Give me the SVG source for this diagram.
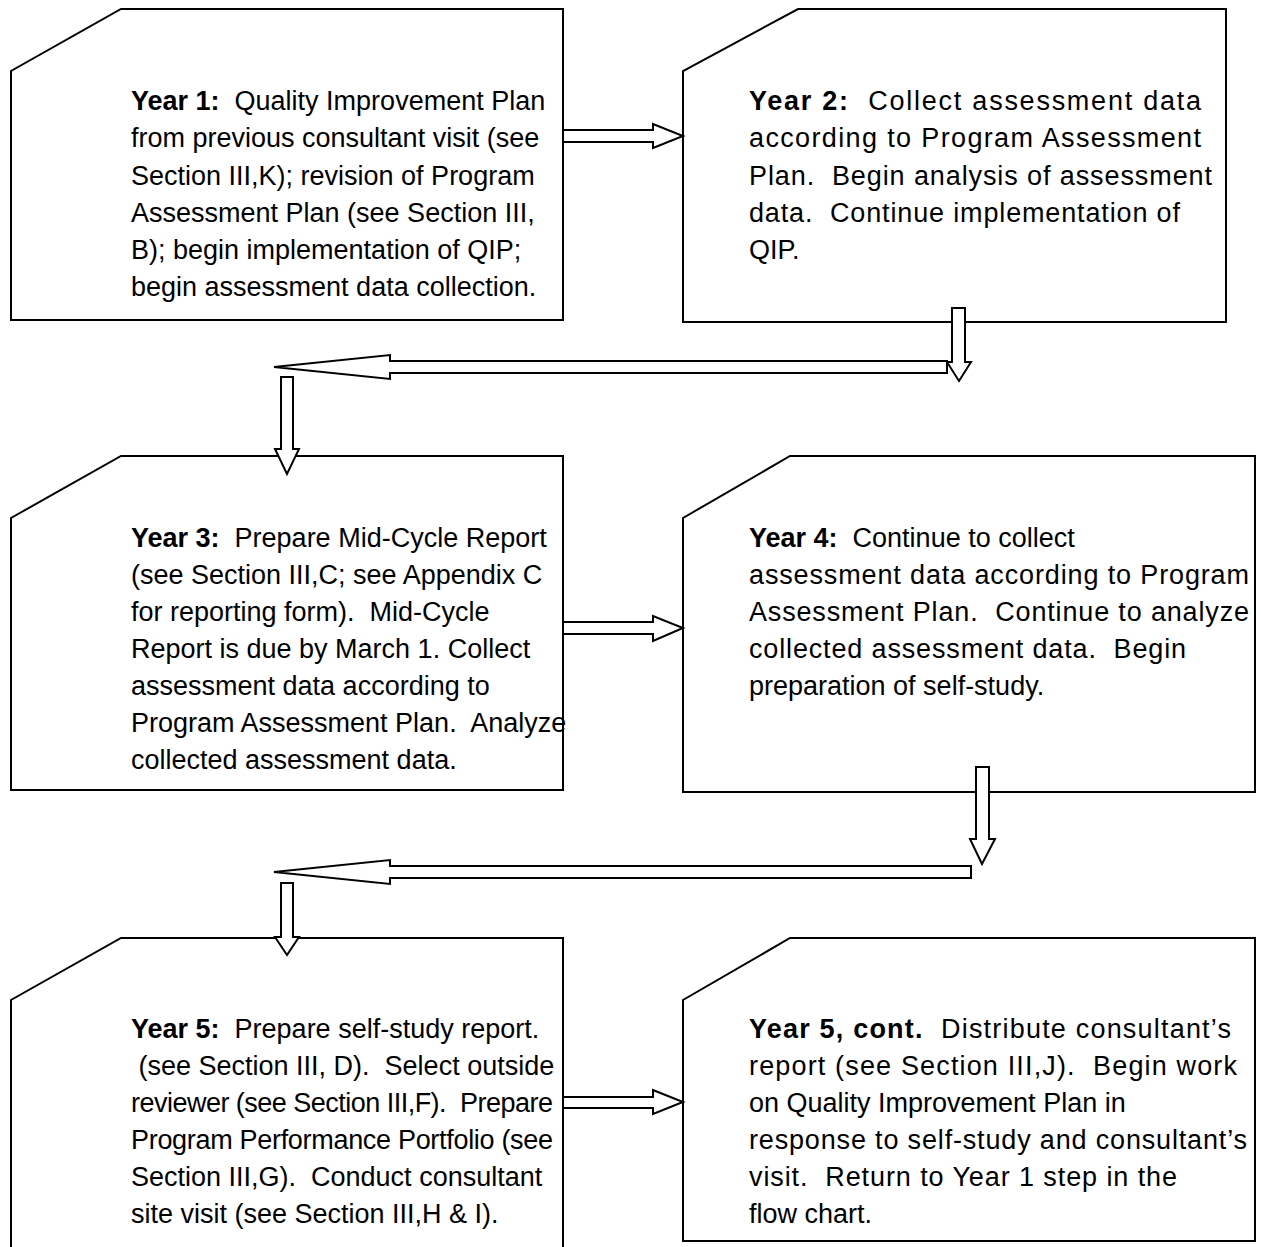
<svg xmlns="http://www.w3.org/2000/svg" width="1261" height="1247" viewBox="0 0 1261 1247">
<style>
.box{fill:#fff;stroke:#000;stroke-width:2}
.arr{fill:#fff;stroke:#000;stroke-width:2;stroke-linejoin:miter}
text{font-family:"Liberation Sans",Arial,sans-serif;font-size:27px;fill:#000;white-space:pre}
.b{font-weight:bold}
</style>
<rect width="1261" height="1247" fill="#fff"/>
<g id="year1">
<path class="box" d="M121,9 L563,9 L563,320 L11,320 L11,71 Z"/>
<text x="131" y="110"><tspan class="b">Year 1:</tspan>  Quality Improvement Plan</text>
<text x="131" y="147">from previous consultant visit (see</text>
<text x="131" y="185">Section III,K); revision of Program</text>
<text x="131" y="222">Assessment Plan (see Section III,</text>
<text x="131" y="259">B); begin implementation of QIP;</text>
<text x="131" y="296">begin assessment data collection.</text>
</g>
<g id="year2">
<path class="box" d="M798,9 L1226,9 L1226,322 L683,322 L683,71 Z"/>
<text x="749" y="110" textLength="452" lengthAdjust="spacing"><tspan class="b">Year 2:</tspan>  Collect assessment data</text>
<text x="749" y="147" textLength="452" lengthAdjust="spacing">according to Program Assessment</text>
<text x="749" y="185" textLength="463" lengthAdjust="spacing">Plan.  Begin analysis of assessment</text>
<text x="749" y="222" textLength="431" lengthAdjust="spacing">data.  Continue implementation of</text>
<text x="749" y="259">QIP.</text>
</g>
<g id="year3">
<path class="box" d="M121,456 L563,456 L563,790 L11,790 L11,518 Z"/>
<text x="131" y="547"><tspan class="b">Year 3:</tspan>  Prepare Mid-Cycle Report</text>
<text x="131" y="584">(see Section III,C; see Appendix C</text>
<text x="131" y="621">for reporting form).  Mid-Cycle</text>
<text x="131" y="658">Report is due by March 1. Collect</text>
<text x="131" y="695">assessment data according to</text>
<text x="131" y="732">Program Assessment Plan.  Analyze</text>
<text x="131" y="769">collected assessment data.</text>
</g>
<g id="year4">
<path class="box" d="M790,456 L1255,456 L1255,792 L683,792 L683,518 Z"/>
<text x="749" y="547"><tspan class="b">Year 4:</tspan>  Continue to collect</text>
<text x="749" y="584" textLength="500" lengthAdjust="spacing">assessment data according to Program</text>
<text x="749" y="621" textLength="500" lengthAdjust="spacing">Assessment Plan.  Continue to analyze</text>
<text x="749" y="658" textLength="437" lengthAdjust="spacing">collected assessment data.  Begin</text>
<text x="749" y="695">preparation of self-study.</text>
</g>
<g id="year5">
<path class="box" d="M11,1260 L11,1000 L121,938 L563,938 L563,1260"/>
<text x="131" y="1038"><tspan class="b">Year 5:</tspan>  Prepare self-study report.</text>
<text x="131" y="1075"> (see Section III, D).  Select outside</text>
<text x="131" y="1112" textLength="422" lengthAdjust="spacing">reviewer (see Section III,F).  Prepare</text>
<text x="131" y="1149" textLength="422" lengthAdjust="spacing">Program Performance Portfolio (see</text>
<text x="131" y="1186">Section III,G).  Conduct consultant</text>
<text x="131" y="1223">site visit (see Section III,H &amp; I).</text>
</g>
<g id="year5cont">
<path class="box" d="M790,938 L1255,938 L1255,1241 L683,1241 L683,1000 Z"/>
<text x="749" y="1038" textLength="482" lengthAdjust="spacing"><tspan class="b">Year 5, cont.</tspan>  Distribute consultant’s</text>
<text x="749" y="1075" textLength="488" lengthAdjust="spacing">report (see Section III,J).  Begin work</text>
<text x="749" y="1112">on Quality Improvement Plan in</text>
<text x="749" y="1149" textLength="498" lengthAdjust="spacing">response to self-study and consultant’s</text>
<text x="749" y="1186" textLength="428" lengthAdjust="spacing">visit.  Return to Year 1 step in the</text>
<text x="749" y="1223">flow chart.</text>
</g>
<g id="connectors">
<polygon class="arr" points="563,130 653,130 653,124 683,136 653,148 653,142 563,142"/>
<polygon class="arr" points="952,308 965,308 965,362 971,362 959,381 947,362 952,362"/>
<polygon class="arr" points="947,361 947,373 390,373 390,379 274,367 390,355 390,361"/>
<polygon class="arr" points="281,377 293,377 293,449 299,449 287,474 275,449 281,449"/>
<polygon class="arr" points="563,622 653,622 653,616 683,628 653,641 653,634 563,634"/>
<polygon class="arr" points="976,767 989,767 989,839 995,839 982,864 970,839 976,839"/>
<polygon class="arr" points="971,866 971,878 390,878 390,884 274,872 390,860 390,866"/>
<polygon class="arr" points="281,883 293,883 293,937 299,937 287,955 275,937 281,937"/>
<polygon class="arr" points="563,1097 653,1097 653,1090 683,1102 653,1114 653,1108 563,1108"/>
</g>
</svg>
